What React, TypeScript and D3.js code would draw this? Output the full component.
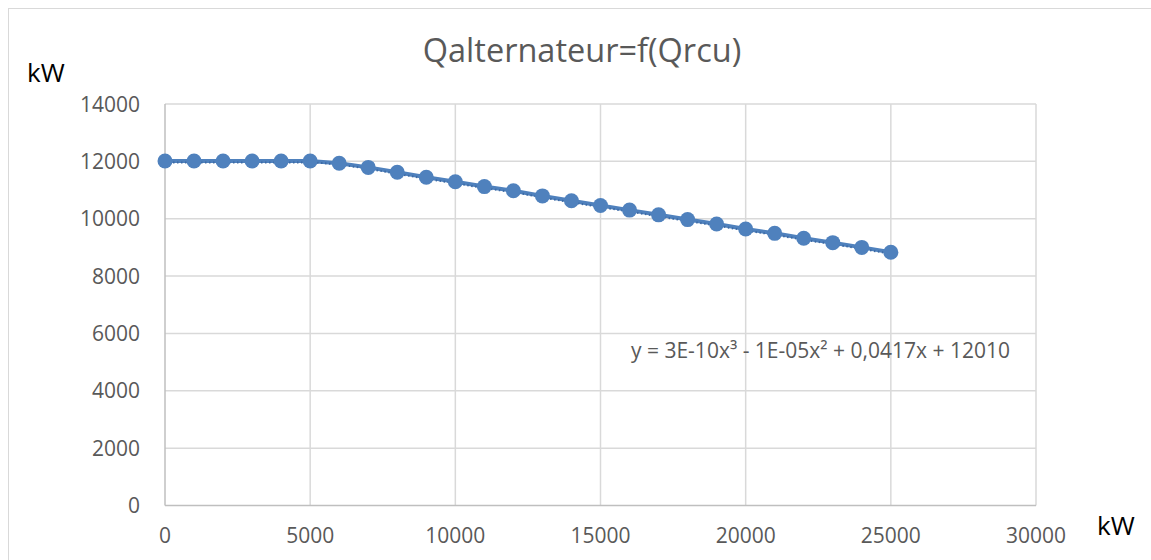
import { useEffect, useRef } from 'react';
import * as d3 from 'd3';

const qrcu = [0, 1000, 2000, 3000, 4000, 5000, 6000, 7000, 8000, 9000, 10000, 11000, 12000, 13000,
  14000, 15000, 16000, 17000, 18000, 19000, 20000, 21000, 22000, 23000, 24000, 25000];
const qalternateur = [12010, 12010, 12010, 12010, 12010, 12010, 11935, 11790, 11620, 11445, 11290, 11120,
  10975, 10795, 10625, 10460, 10300, 10135, 9970, 9815, 9640, 9490, 9320, 9165, 9000, 8830];
const xTicks = [0, 5000, 10000, 15000, 20000, 25000, 30000];
const yTicks = [0, 2000, 4000, 6000, 8000, 10000, 12000, 14000];
const title = 'Qalternateur=f(Qrcu)';
const equation = 'y = 3E-10x³ - 1E-05x² + 0,0417x + 12010';

export default function App() {
  const svgRef = useRef<SVGSVGElement>(null);

  useEffect(() => {
    if (!svgRef.current) return;
    const svg = d3.select(svgRef.current);
    svg.selectAll('*').remove();

    const font = "'Open Sans', sans-serif";
    const left = 165, right = 1036, top = 104, bottom = 505.5;

    const x = d3.scaleLinear().domain([0, 30000]).range([left, right]);
    const y = d3.scaleLinear().domain([0, 14000]).range([bottom, top]);

    // chart area border
    svg.append('rect')
      .attr('x', 8.5).attr('y', 8.5)
      .attr('width', 1160).attr('height', 570)
      .attr('fill', '#fff').attr('stroke', '#d9d9d9');

    svg.append('text')
      .attr('x', 582).attr('y', 62)
      .attr('text-anchor', 'middle')
      .attr('font-family', font).attr('font-size', 32.5)
      .attr('fill', '#595959')
      .text(title);

    // gridlines
    svg.append('g').selectAll('line').data(yTicks.slice(1)).join('line')
      .attr('x1', left).attr('x2', right)
      .attr('y1', (d) => y(d)).attr('y2', (d) => y(d))
      .attr('stroke', '#d9d9d9').attr('stroke-width', 1.5);
    svg.append('g').selectAll('line').data(xTicks.slice(1)).join('line')
      .attr('x1', (d) => x(d)).attr('x2', (d) => x(d))
      .attr('y1', top).attr('y2', bottom)
      .attr('stroke', '#d9d9d9').attr('stroke-width', 1.5);

    // axes lines
    svg.append('line')
      .attr('x1', left).attr('x2', left).attr('y1', top).attr('y2', bottom)
      .attr('stroke', '#bfbfbf').attr('stroke-width', 1.5);
    svg.append('line')
      .attr('x1', left).attr('x2', right).attr('y1', bottom).attr('y2', bottom)
      .attr('stroke', '#bfbfbf').attr('stroke-width', 1.5);

    // tick labels
    svg.append('g').selectAll('text').data(yTicks).join('text')
      .attr('x', 140).attr('y', (d) => y(d))
      .attr('dy', '0.36em')
      .attr('text-anchor', 'end')
      .attr('font-family', font).attr('font-size', 21)
      .attr('fill', '#595959')
      .text((d) => d);
    svg.append('g').selectAll('text').data(xTicks).join('text')
      .attr('x', (d) => x(d)).attr('y', 543)
      .attr('text-anchor', 'middle')
      .attr('font-family', font).attr('font-size', 21)
      .attr('fill', '#595959')
      .text((d) => d);

    // unit labels
    svg.append('text')
      .attr('x', 27).attr('y', 82)
      .attr('font-family', font).attr('font-size', 26)
      .attr('fill', '#000')
      .text('kW');
    svg.append('text')
      .attr('x', 1097).attr('y', 535)
      .attr('font-family', font).attr('font-size', 26)
      .attr('fill', '#000')
      .text('kW');

    const pts = qrcu.map((v, i) => [v, qalternateur[i]] as [number, number]);

    const line = d3.line<[number, number]>()
      .x((d) => x(d[0]))
      .y((d) => y(d[1]));

    svg.append('path')
      .datum(pts)
      .attr('fill', 'none')
      .attr('stroke', '#4f81bd')
      .attr('stroke-width', 4)
      .attr('stroke-linejoin', 'round')
      .attr('d', line);

    // polynomial trendline (dotted)
    svg.append('path')
      .datum(pts)
      .attr('fill', 'none')
      .attr('stroke', '#3c6aa5')
      .attr('stroke-width', 2)
      .attr('stroke-dasharray', '1.5,2.5')
      .attr('transform', 'translate(0,1.5)')
      .attr('d', line.curve(d3.curveMonotoneX));

    svg.append('g').selectAll('circle').data(pts).join('circle')
      .attr('cx', (d) => x(d[0]))
      .attr('cy', (d) => y(d[1]))
      .attr('r', 7.5)
      .attr('fill', '#4f81bd');

    svg.append('text')
      .attr('x', 631).attr('y', 358)
      .attr('font-family', font).attr('font-size', 21)
      .attr('fill', '#595959')
      .text(equation);
  }, []);

  return (
    <svg ref={svgRef} width={1151} height={560}
      style={{ position: 'absolute', left: 0, top: 0, background: '#fff' }} />
  );
}
